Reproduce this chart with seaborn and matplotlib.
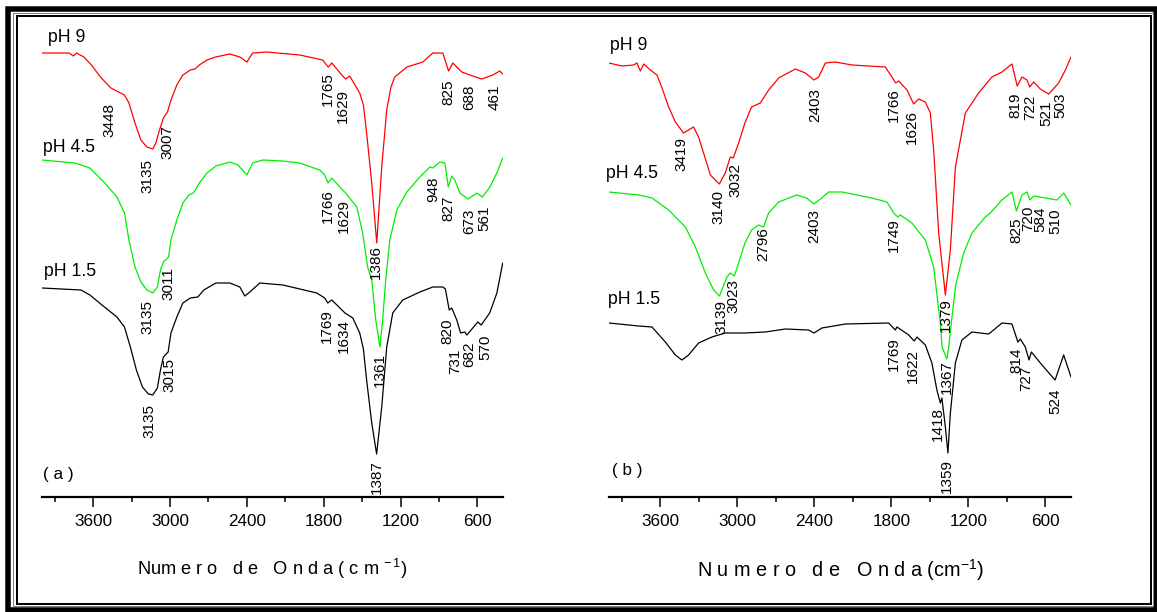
import matplotlib
matplotlib.use("Agg")
import matplotlib.pyplot as plt
from matplotlib.patches import Rectangle
from matplotlib.ticker import MultipleLocator, FixedLocator
from matplotlib import font_manager
import pandas as pd
import seaborn as sns

# ---------------- FTIR spectra (wavenumber in cm-1, transmittance in a.u.) ----------------
# Panel (a)
a_ph9_wn = [4000, 3790, 3755, 3731, 3673, 3614, 3544, 3462, 3356, 3321, 3274, 3228, 3181, 3135, 3111,
            3087, 3052, 3020, 2993, 2947, 2900, 2841, 2806, 2771, 2712, 2645, 2533, 2455, 2400, 2355,
            2245, 1988, 1808, 1765, 1737, 1652, 1629, 1597, 1519, 1490, 1465, 1425, 1386, 1347, 1308,
            1275, 1245, 1151, 1026, 948, 870, 825, 792, 722, 659, 566, 480, 425, 402]
a_ph9_t = [444, 444, 441, 444, 440, 432, 420, 409, 402, 394, 374, 357, 350, 348, 354,
           365, 379, 385, 397, 412, 422, 427, 428, 432, 437, 440, 443, 440, 435, 444,
           445, 442, 437, 430, 434, 421, 418, 421, 404, 392, 364, 314, 254, 330, 387,
           410, 420, 430, 435, 444, 444, 426, 434, 425, 422, 418, 422, 426, 423]

a_ph45_wn = [4000, 3743, 3626, 3509, 3415, 3356, 3321, 3274, 3228, 3181, 3135, 3099, 3075, 3052, 3011,
             2993, 2947, 2900, 2853, 2818, 2771, 2712, 2642, 2533, 2470, 2400, 2355, 2275, 2119, 1988,
             1831, 1792, 1766, 1737, 1675, 1629, 1542, 1496, 1457, 1425, 1394, 1361, 1340, 1316, 1284,
             1229, 1151, 1049, 971, 948, 893, 854, 827, 800, 776, 737, 673, 604, 561, 502, 448, 402]
a_ph45_t = [337, 334, 329, 314, 300, 284, 257, 230, 215, 207, 204, 210, 227, 235, 240,
            257, 277, 294, 302, 304, 314, 324, 331, 335, 332, 322, 334, 337, 336, 334,
            327, 322, 314, 319, 310, 304, 290, 264, 230, 217, 177, 150, 177, 217, 257,
            287, 305, 320, 330, 329, 335, 334, 310, 321, 317, 304, 298, 304, 300, 310, 324, 339]

a_ph15_wn = [4000, 3696, 3626, 3532, 3415, 3356, 3310, 3263, 3216, 3169, 3135, 3099, 3075, 3052, 3015,
             2993, 2947, 2900, 2841, 2783, 2736, 2642, 2533, 2455, 2416, 2377, 2299, 2119, 1854, 1792,
             1769, 1737, 1634, 1573, 1519, 1490, 1465, 1425, 1387, 1347, 1308, 1261, 1183, 1049, 948,
             870, 850, 820, 800, 761, 731, 698, 682, 636, 597, 570, 504, 448, 402]
a_ph15_t = [209, 207, 202, 192, 180, 170, 150, 127, 110, 103, 102, 109, 127, 140, 145,
            164, 180, 194, 199, 200, 207, 214, 214, 210, 201, 205, 214, 212, 204, 199,
            194, 197, 184, 179, 164, 148, 117, 74, 43, 90, 150, 184, 197, 205, 210,
            210, 208, 187, 189, 177, 164, 165, 162, 169, 175, 172, 184, 204, 234]

# Panel (b)
b_ph9_wn = [4000, 3899, 3808, 3782, 3756, 3730, 3678, 3626, 3587, 3535, 3483, 3419, 3380, 3341, 3302,
            3263, 3210, 3140, 3094, 3055, 3032, 2990, 2941, 2889, 2821, 2756, 2678, 2548, 2470, 2403,
            2366, 2314, 2236, 2107, 1847, 1795, 1766, 1743, 1678, 1626, 1587, 1535, 1496, 1470, 1431,
            1379, 1340, 1301, 1223, 1120, 1016, 938, 860, 819, 782, 743, 722, 691, 639, 574,
            496, 444, 400]
b_ph9_t = [434, 431, 432, 434, 426, 433, 427, 422, 409, 390, 375, 364, 367, 370, 360,
           344, 322, 313, 324, 340, 339, 354, 374, 390, 394, 407, 419, 428, 424, 417,
           420, 434, 435, 432, 430, 420, 414, 416, 407, 393, 398, 395, 384, 347, 264,
           202, 247, 330, 384, 404, 420, 425, 433, 411, 420, 417, 410, 415, 408, 403,
           414, 427, 440]

b_ph45_wn = [4000, 3769, 3665, 3535, 3405, 3327, 3249, 3185, 3139, 3081, 3055, 3023, 2990, 2941, 2889,
             2834, 2796, 2756, 2678, 2538, 2460, 2403, 2353, 2288, 2185, 1951, 1834, 1782, 1749, 1730,
             1640, 1535, 1470, 1431, 1418, 1405, 1367, 1353, 1330, 1299, 1236, 1172, 1068, 1029, 938,
             860, 825, 782, 743, 720, 691, 600, 510, 457, 400]
b_ph45_t = [305, 302, 299, 287, 270, 250, 224, 207, 201, 220, 224, 221, 234, 254, 267,
            272, 270, 284, 295, 302, 299, 293, 298, 305, 305, 299, 295, 284, 280, 282,
            274, 257, 230, 187, 174, 150, 138, 150, 177, 212, 244, 264, 280, 284, 297,
            305, 286, 302, 305, 297, 301, 299, 297, 304, 292]

b_ph15_wn = [4000, 3769, 3665, 3561, 3483, 3432, 3380, 3302, 3198, 3094, 2941, 2782, 2626, 2444, 2403,
             2341, 2158, 1821, 1769, 1756, 1665, 1622, 1600, 1535, 1484, 1445, 1418, 1406, 1379, 1359,
             1340, 1301, 1250, 1172, 1042, 1003, 938, 860, 814, 795, 756, 727, 709, 626, 524,
             457, 400]
b_ph15_t = [174, 171, 170, 155, 142, 137, 142, 154, 160, 164, 164, 165, 168, 167, 164,
            169, 173, 174, 167, 170, 162, 156, 160, 152, 134, 107, 94, 99, 70, 44,
            84, 134, 157, 165, 163, 167, 174, 173, 155, 158, 150, 137, 145, 132, 117,
            142, 120]

series_names = ["pH 9", "pH 4.5", "pH 1.5"]
series_colors = ["#ff0000", "#00ee00", "#000000"]

# Peak annotations: (text, wavenumber position, transmittance position)
a_peaks = [("3448", 3477, 377), ("3135", 3173, 321), ("3007", 3017, 355), ("1765", 1768, 408),
           ("1629", 1652, 391), ("825", 823, 405), ("688", 667, 400), ("461", 464, 400),
           ("3135", 3173, 180), ("3011", 3009, 213), ("1766", 1768, 291), ("1629", 1644, 281),
           ("1386", 1393, 235), ("1361", 1362, 127), ("948", 948, 308), ("827", 823, 289),
           ("673", 667, 276), ("561", 542, 279),
           ("3135", 3157, 76), ("3015", 3001, 122), ("1769", 1776, 171), ("1634", 1644, 161),
           ("1387", 1385, 20), ("820", 831, 166), ("731", 775, 136), ("682", 660, 143),
           ("570", 535, 150)]
b_peaks = [("3419", 3434, 343), ("3140", 3146, 290), ("3032", 3013, 317), ("2403", 2390, 392),
           ("1766", 1782, 392), ("1626", 1642, 370), ("819", 832, 392), ("722", 715, 390),
           ("521", 590, 384), ("503", 481, 392),
           ("3139", 3122, 180), ("3023", 3029, 201), ("2796", 2795, 253), ("2403", 2398, 271),
           ("1749", 1782, 262), ("1379", 1377, 182), ("1367", 1369, 120), ("825", 824, 267),
           ("720", 730, 279), ("584", 637, 278), ("510", 520, 276),
           ("1769", 1782, 143), ("1622", 1634, 131), ("1418", 1439, 73), ("1359", 1369, 21),
           ("814", 824, 137), ("727", 746, 119), ("524", 520, 96)]

# ---------------- styling ----------------
sns.set_theme(style="white")
available = {f.name for f in font_manager.fontManager.ttflist}
WIDE = "Liberation Sans"
NARROW = "Liberation Sans Narrow" if "Liberation Sans Narrow" in available else WIDE
k = 1.0 if NARROW != WIDE else 0.82
plt.rcParams["font.family"] = [NARROW, "DejaVu Sans"]
plt.rcParams["mathtext.fontset"] = "custom"
plt.rcParams["mathtext.rm"] = NARROW
plt.rcParams["mathtext.it"] = NARROW
plt.rcParams["mathtext.sf"] = NARROW

W, H = 1157, 612
fig = plt.figure(figsize=(W / 100, H / 100), dpi=100)
fig.patch.set_facecolor("white")


def px_box(x0, x1, y_top, y_bot):
    return [x0 / W, 1 - y_bot / H, (x1 - x0) / W, (y_bot - y_top) / H]


def draw_panel(ax, spectra, peaks, ph_pos, tag, tag_pos, xlabel, xlabel_size):
    for (wn, t), color in zip(spectra, series_colors):
        df = pd.DataFrame({"wn": wn, "t": t})
        sns.lineplot(data=df, x="wn", y="t", ax=ax, color=color, linewidth=0.9,
                     sort=False, estimator=None)
    ax.set_xlim(4000, 400)
    ax.set_ylim(0, 477)
    for side in ("left", "top", "right"):
        ax.spines[side].set_visible(False)
    ax.spines["bottom"].set_linewidth(1.6)
    ax.spines["bottom"].set_color("black")
    ax.set_yticks([])
    ax.set_ylabel("")
    ax.xaxis.set_major_locator(MultipleLocator(600))
    ax.xaxis.set_minor_locator(FixedLocator([900, 1500, 2100, 2700, 3300, 3900]))
    ax.tick_params(axis="x", which="major", direction="out", length=7, width=1.1,
                   color="black", pad=5, labelsize=15 * k, labelcolor="black", bottom=True)
    ax.tick_params(axis="x", which="minor", direction="out", length=3.5, width=1.1,
                   color="black", bottom=True)
    ax.set_xlabel(xlabel, fontsize=xlabel_size, color="black")
    ax.xaxis.set_label_coords(0.5, -0.125)
    for text, x, y in peaks:
        ax.text(x, y, text, rotation=90, ha="center", va="center", fontsize=11,
                family=[WIDE, "DejaVu Sans"], color="black")
    for name, (x, y) in zip(series_names, ph_pos):
        ax.text(x, y, name, ha="left", va="center", fontsize=15.5 * k, color="black",
                clip_on=False)
    ax.text(tag_pos[0], tag_pos[1], tag, ha="left", va="center", fontsize=15 * k,
            color="black")


ax_a = fig.add_axes(px_box(42, 503, 20, 497))
ax_b = fig.add_axes(px_box(609, 1071, 20, 497))

draw_panel(ax_a, [(a_ph9_wn, a_ph9_t), (a_ph45_wn, a_ph45_t), (a_ph15_wn, a_ph15_t)], a_peaks,
           [(3954, 460), (3993, 349), (3985, 226)], "( a )", (3993, 23),
           r"Num e r o   d e   O n d a ( c m $^{-\,1}$)", 16 * k)
draw_panel(ax_b, [(b_ph9_wn, b_ph9_t), (b_ph45_wn, b_ph45_t), (b_ph15_wn, b_ph15_t)], b_peaks,
           [(3995, 452), (4026, 323), (4011, 197)], "( b )", (3980, 26),
           r"N u m e r o   d e   O n d a (cm$^{-1}$)", 17.5 * k)


# double picture frame around the whole figure
def frame(x0, y0, x1, y1, lw_px, color):
    fig.add_artist(Rectangle((x0 / W, 1 - y1 / H), (x1 - x0) / W, (y1 - y0) / H,
                             transform=fig.transFigure, fill=False, edgecolor=color,
                             linewidth=lw_px * 0.72))


frame(7.5, 8.5, 1156, 609.5, 5.5, "black")
frame(13, 13, 1153, 606, 1, "#808080")
frame(16.5, 15.5, 1151, 603.5, 2, "black")

fig.savefig("out.png", dpi=100, facecolor="white")
